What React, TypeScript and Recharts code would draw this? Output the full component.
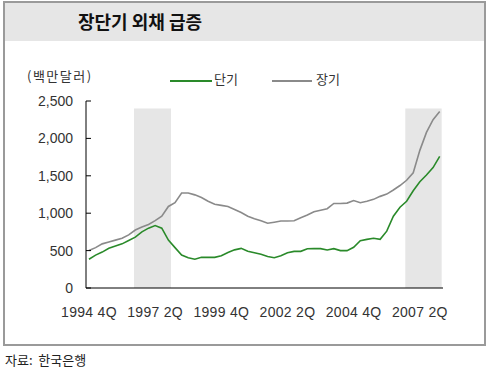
import React from 'react';
import { LineChart, Line, XAxis, YAxis, ReferenceArea } from 'recharts';

const quarters = [
  '1994 4Q',
  '1995 1Q', '1995 2Q', '1995 3Q', '1995 4Q',
  '1996 1Q', '1996 2Q', '1996 3Q', '1996 4Q',
  '1997 1Q', '1997 2Q', '1997 3Q', '1997 4Q',
  '1998 1Q', '1998 2Q', '1998 3Q', '1998 4Q',
  '1999 1Q', '1999 2Q', '1999 3Q', '1999 4Q',
  '2000 1Q', '2000 2Q', '2000 3Q', '2000 4Q',
  '2001 1Q', '2001 2Q', '2001 3Q', '2001 4Q',
  '2002 1Q', '2002 2Q', '2002 3Q', '2002 4Q',
  '2003 1Q', '2003 2Q', '2003 3Q', '2003 4Q',
  '2004 1Q', '2004 2Q', '2004 3Q', '2004 4Q',
  '2005 1Q', '2005 2Q', '2005 3Q', '2005 4Q',
  '2006 1Q', '2006 2Q', '2006 3Q', '2006 4Q',
  '2007 1Q', '2007 2Q', '2007 3Q', '2007 4Q',
  '2008 1Q',
];

const shortTerm = [
  385, 440, 480, 530, 560, 590, 635, 680, 750, 800,
  835, 800, 640, 540, 440, 405, 385, 410, 410, 410,
  430, 475, 510, 530, 490, 470, 450, 420, 405, 430,
  470, 490, 490, 525, 526, 526, 508, 526, 500, 500,
  545, 633, 650, 664, 651, 760, 960, 1080, 1160, 1300,
  1420, 1510, 1610, 1760,
];

const longTerm = [
  500, 540, 590, 615, 640, 665, 710, 775, 815, 850,
  900, 960, 1090, 1140, 1270, 1270, 1245, 1210, 1160, 1120,
  1105, 1090, 1050, 1010, 960, 925, 900, 865, 880, 895,
  896, 900, 940, 975, 1020, 1040, 1060, 1130, 1130, 1135,
  1170, 1140, 1160, 1185, 1225, 1255, 1310, 1370, 1440, 1540,
  1840, 2080, 2250, 2360,
];

const xTickIndex = [0, 10, 20, 30, 40, 50];
const yTicks = [0, 500, 1000, 1500, 2000, 2500];
const shadedPeriods = [
  { from: 6.8, to: 12.4 },
  { from: 47.8, to: 53.3 },
];
const shadeTop = 2400;

const seriesNames = { short: '단기', long: '장기' };

const data = quarters.map((q, i) => ({
  idx: i,
  quarter: q,
  short: shortTerm[i],
  long: longTerm[i],
}));

const GREEN = '#2a8a2a';
const GREY = '#8a8a8a';
const NUM_FONT = '"Liberation Sans", Arial, sans-serif';
const KR_FONT = '"Noto Sans CJK KR", sans-serif';

const YTick = (props: any) => {
  const { x, y, payload } = props;
  const axisX = x + 13;
  return (
    <g>
      <line x1={axisX} x2={axisX + 5} y1={y} y2={y} stroke="#000" strokeWidth={1} />
      <text x={x} y={y} dy="0.36em" textAnchor="end" fill="#333" fontSize={14} fontFamily={NUM_FONT}>
        {payload.value.toLocaleString('en-US')}
      </text>
    </g>
  );
};

export default function App() {
  return (
    <div style={{ position: 'absolute', left: 0, top: 0, width: 489, height: 377, background: '#fff', overflow: 'hidden' }}>
      <div
        style={{
          position: 'absolute',
          left: 3,
          top: 1,
          width: 479,
          height: 341,
          border: '2px solid #9a9a9a',
        }}
      />
      <div
        style={{
          position: 'absolute',
          left: 5,
          top: 3,
          width: 479,
          height: 38,
          background: '#e6e6e6',
        }}
      />
      <div
        style={{
          position: 'absolute',
          left: 78,
          top: 8,
          fontFamily: KR_FONT,
          fontWeight: 700,
          fontSize: 18,
          lineHeight: '27px',
          color: '#111',
          letterSpacing: 0,
        }}
      >
        장단기 외채 급증
      </div>
      <div
        style={{
          position: 'absolute',
          left: 27,
          top: 67,
          fontFamily: KR_FONT,
          fontSize: 13,
          lineHeight: '18px',
          color: '#333',
          letterSpacing: 1.5,
        }}
      >
        (백만달러)
      </div>
      {/* legend */}
      <div style={{ position: 'absolute', left: 170, top: 80, width: 42, height: 2, background: GREEN }} />
      <div style={{ position: 'absolute', left: 214, top: 70, fontFamily: KR_FONT, fontSize: 13, lineHeight: '18px', color: '#333' }}>
        {seriesNames.short}
      </div>
      <div style={{ position: 'absolute', left: 272, top: 80, width: 40, height: 2, background: GREY }} />
      <div style={{ position: 'absolute', left: 316, top: 70, fontFamily: KR_FONT, fontSize: 13, lineHeight: '18px', color: '#333' }}>
        {seriesNames.long}
      </div>
      <div style={{ position: 'absolute', left: 0, top: 0 }}>
        <LineChart
          width={489}
          height={377}
          data={data}
          margin={{ top: 101, right: 46, bottom: 59, left: 26 }}
        >
          {shadedPeriods.map((p, i) => (
            <ReferenceArea
              key={i}
              x1={p.from}
              x2={p.to}
              y1={0}
              y2={shadeTop}
              fill="#e6e6e6"
              fillOpacity={1}
              stroke="none"
              ifOverflow="extendDomain"
            />
          ))}
          <XAxis
            dataKey="idx"
            type="number"
            domain={[-0.45, 53.5]}
            ticks={xTickIndex}
            tickFormatter={(v: number) => quarters[v]}
            tickLine={false}
            tickSize={0}
            tickMargin={19}
            height={30}
            axisLine={{ stroke: '#000', strokeWidth: 1 }}
            tick={{ fill: '#333', fontSize: 14, fontFamily: NUM_FONT, letterSpacing: 0.3 }}
            interval={0}
            allowDataOverflow
          />
          <YAxis
            domain={[0, 2500]}
            ticks={yTicks}
            width={60}
            tickLine={false}
            tickSize={0}
            tickMargin={13}
            axisLine={{ stroke: '#000', strokeWidth: 1 }}
            tick={<YTick />}
            interval={0}
          />
          <Line
            type="linear"
            dataKey="long"
            name={seriesNames.long}
            stroke={GREY}
            strokeWidth={1.6}
            dot={false}
            isAnimationActive={false}
          />
          <Line
            type="linear"
            dataKey="short"
            name={seriesNames.short}
            stroke={GREEN}
            strokeWidth={1.6}
            dot={false}
            isAnimationActive={false}
          />
        </LineChart>
      </div>
      <div
        style={{
          position: 'absolute',
          left: 5,
          top: 351,
          fontFamily: KR_FONT,
          fontSize: 13,
          lineHeight: '18px',
          color: '#222',
        }}
      >
        자료:&nbsp; 한국은행
      </div>
    </div>
  );
}
